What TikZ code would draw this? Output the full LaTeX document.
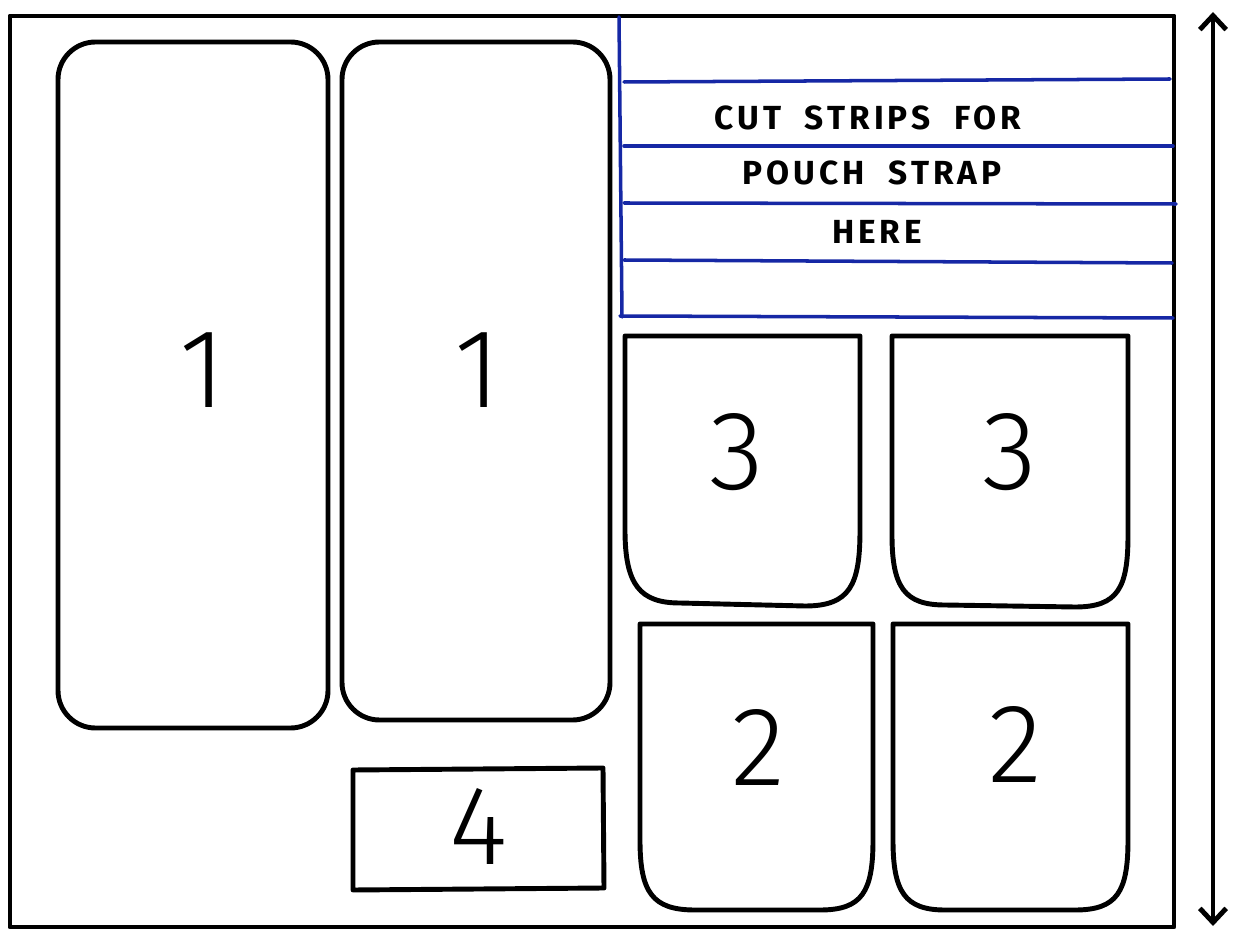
\documentclass[tikz,border=0pt]{standalone}
\usepackage{fontspec}
\usetikzlibrary{arrows.meta}
\newfontfamily\digitfont{Fira Sans Light}
\newfontfamily\capsfont[LetterSpace=12,WordSpace=2]{Fira Sans}
\definecolor{penblue}{RGB}{22,40,165}
\begin{document}
\begin{tikzpicture}[x=0.02cm,y=-0.02cm,
  pen/.style={line width=2.8pt,line join=round,line cap=round,black},
  bluepen/.style={line width=2pt,line cap=round,penblue},
  digit/.style={font=\digitfont\fontsize{64}{64}\selectfont,inner sep=0pt},
  note/.style={font=\capsfont\bfseries\fontsize{19}{19}\selectfont,inner sep=0pt}]
\useasboundingbox (0,0) rectangle (1235,932);
% outer sheet
\draw[pen] (10,16) -- (1174,16) -- (1174,927) -- (10,927) -- cycle;
% double arrow
\coordinate (atop) at (1213,12);
\coordinate (abot) at (1213,926);
\draw[pen,{Straight Barb[length=8pt,width=15pt]}-{Straight Barb[length=8pt,width=15pt]}] (atop) -- (abot);
% pieces 1
\draw[pen,rounded corners=0.75cm] (58,42) -- (328,42) -- (328,728) -- (58,728) -- cycle;
\draw[pen,rounded corners=0.75cm] (342,42) -- (610,42) -- (610,720) -- (342,720) -- cycle;
% strap area
\draw[bluepen] (619,17) -- (622,317);
\draw[bluepen] (624,82) -- (1170,79);
\draw[bluepen] (624,146) -- (1173,146);
\draw[bluepen] (624,203) -- (1176,204);
\draw[bluepen] (624,260) -- (1172,263);
\draw[bluepen] (620,316) -- (1173,318);
% pieces 3
\draw[pen] (625,336) -- (860,336) -- (860,530) .. controls (860,585) and (850,606) .. (805,606) -- (680,603) .. controls (640,603) and (625,585) .. (625,530) -- cycle;
\draw[pen] (892,336) -- (1128,336) -- (1128,535) .. controls (1128,588) and (1118,607) .. (1075,607) -- (945,605) .. controls (905,605) and (892,588) .. (892,535) -- cycle;
% pieces 2
\draw[pen] (640,624) -- (873,624) -- (873,840) .. controls (873,892) and (862,910) .. (820,910) -- (695,910) .. controls (652,910) and (640,892) .. (640,840) -- cycle;
\draw[pen] (893,624) -- (1128,624) -- (1128,840) .. controls (1128,892) and (1117,910) .. (1075,910) -- (945,910) .. controls (905,910) and (893,892) .. (893,840) -- cycle;
% piece 4
\draw[pen] (353,770) -- (603,768) -- (604,888) -- (353,890) -- cycle;
% labels
\node[digit] (n1a) at (203,370) {1};
\node[digit] (n1b) at (478,370) {1};
\node[digit] (n3a) at (737,452) {3};
\node[digit] (n3b) at (1010,452) {3};
\node[digit] (n2a) at (758,747) {2};
\node[digit] (n2b) at (1015,744) {2};
\node[digit] (n4) at (479,826) {4};
\node[note] (t1) at (868,118) {CUT STRIPS FOR};
\node[note] (t2) at (872,173) {POUCH STRAP};
\node[note] (t3) at (877,232) {HERE};
\end{tikzpicture}
\end{document}
